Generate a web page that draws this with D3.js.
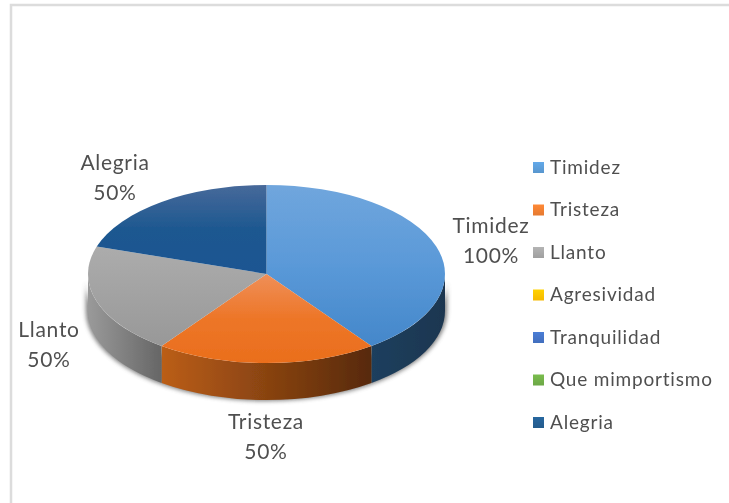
<!DOCTYPE html>
<html><head><meta charset="utf-8">
<script src="https://cdn.jsdelivr.net/npm/d3@7"></script>
<style>html,body{margin:0;padding:0;background:#fff}svg{display:block}text{font-family:Lato,"Open Sans",sans-serif;fill:#505050}</style>
</head><body><svg id="c" width="729" height="503"></svg>
<script>
const categories = ["Timidez","Tristeza","Llanto","Agresividad","Tranquilidad","Que mimportismo","Alegria"];
const values = [100,50,50,0,0,0,50];
const percentLabels = ["100%","50%","50%","","","","50%"];
const swatchColors = ["#5B9BD5","#ED7D31","#A5A5A5","#FFC000","#4472C4","#70AD47","#255E91"];
const topFrom = ["#70a6dd","#ef8f58","#acacac","#ffc000","#4472c4","#70ad47","#47699a"];
const topMid = ["#5a99d8","#ed7628","#a2a2a2","#ffc000","#4472c4","#70ad47","#1d5890"];
const topTo = ["#4487ca","#ea6e1c","#989898","#ffc000","#4472c4","#70ad47","#1a5592"];
const sideFrom = ["#1f3f5e","#bb5e18","#9a9a9a","#ffc000","#4472c4","#70ad47","#1a4a7a"];
const sideTo = ["#1b3650","#57290a","#666666","#ffc000","#4472c4","#70ad47","#1a4a7a"];

const W=729,H=503,cx=266.5,cy=274,rx=178.5,ry=89,depth=37;
const svg=d3.select("#c");
const defs=svg.append("defs");
const blur=defs.append("filter").attr("id","sh").attr("x","-10%").attr("y","-10%").attr("width","120%").attr("height","120%");
blur.append("feGaussianBlur").attr("stdDeviation",2.2);
const soft=defs.append("filter").attr("id","soft");
soft.append("feGaussianBlur").attr("stdDeviation",0.35);

// frame
svg.append("path").attr("d",`M${W},5H11V${H}`).attr("fill","none").attr("stroke","#dcdcdc").attr("stroke-width",2.5);

const pie=d3.pie().sort(null).value(d=>d)(values);
const X=d3.scaleLinear().domain([-1,1]).range([cx-rx,cx+rx]);
const Y=d3.scaleLinear().domain([-1,1]).range([cy-ry,cy+ry]);
const px=a=>X(Math.sin(a)), py=a=>Y(-Math.cos(a));

function topPath(s){
  const large=(s.endAngle-s.startAngle)>Math.PI?1:0;
  return `M${cx},${cy}L${px(s.startAngle)},${py(s.startAngle)}A${rx},${ry} 0 ${large} 1 ${px(s.endAngle)},${py(s.endAngle)}Z`;
}
function sidePath(a0,a1){
  return `M${px(a0)},${py(a0)}A${rx},${ry} 0 0 1 ${px(a1)},${py(a1)}L${px(a1)},${py(a1)+depth}A${rx},${ry} 0 0 0 ${px(a0)},${py(a0)+depth}Z`;
}
const hp=Math.PI/2, tp=3*Math.PI/2;

categories.forEach((c,i)=>{
  const g=defs.append("linearGradient").attr("id","t"+i).attr("x1",0).attr("y1",0).attr("x2",0).attr("y2",1);
  g.append("stop").attr("offset",0).attr("stop-color",topFrom[i]);
  g.append("stop").attr("offset",.5).attr("stop-color",topMid[i]);
  g.append("stop").attr("offset",1).attr("stop-color",topTo[i]);
  const h=defs.append("linearGradient").attr("id","s"+i).attr("x1",0).attr("y1",0).attr("x2",1).attr("y2",0);
  h.append("stop").attr("offset",0).attr("stop-color",sideFrom[i]);
  h.append("stop").attr("offset",1).attr("stop-color",sideTo[i]);
  const l=defs.append("linearGradient").attr("id","l"+i).attr("x1",0).attr("y1",0).attr("x2",0).attr("y2",1);
  l.append("stop").attr("offset",0).attr("stop-color",d3.color(swatchColors[i]).brighter(0.25));
  l.append("stop").attr("offset",1).attr("stop-color",d3.color(swatchColors[i]).darker(0.1));
});

// drop shadow around the side wall
svg.append("path")
  .attr("d",`M${X(-1)},${cy+8}A${rx},${ry} 0 0 0 ${X(1)},${cy+8}L${X(1)},${cy+depth}A${rx},${ry} 0 0 1 ${X(-1)},${cy+depth}Z`)
  .attr("transform",`translate(${cx},${cy+depth}) scale(1.012,1.012) translate(${-cx},${-cy-depth})`)
  .attr("fill","#555").attr("filter","url(#sh)").attr("opacity",.75);

const chart=svg.append("g").attr("filter","url(#soft)");
pie.forEach((s,i)=>{
  if(s.value===0) return;
  const a0=Math.max(s.startAngle,hp), a1=Math.min(s.endAngle,tp);
  if(a1<=a0) return;
  chart.append("path").attr("d",sidePath(a0,a1)).attr("fill",`url(#s${i})`);
});
pie.forEach((s,i)=>{
  if(s.value===0) return;
  chart.append("path").attr("d",topPath(s)).attr("fill",`url(#t${i})`);
});

// data labels
const labelPos={Timidez:[491,226],Tristeza:[266,422],Llanto:[49,330],Alegria:[115,163]};
const labelG=svg.append("g").attr("filter","url(#soft)");
categories.forEach((c,i)=>{
  if(!values[i]) return;
  const [x,y]=labelPos[c];
  const t=labelG.append("text").attr("text-anchor","middle").attr("font-size",21).attr("letter-spacing",0.7);
  t.append("tspan").attr("x",x).attr("y",y+7).text(c);
  t.append("tspan").attr("x",x).attr("y",y+37).text(percentLabels[i]);
});

// legend
const ly=d3.scalePoint().domain(categories).range([167,422]);
const leg=svg.append("g").attr("filter","url(#soft)");
categories.forEach((c,i)=>{
  leg.append("rect").attr("x",533).attr("y",ly(c)-5).attr("width",11).attr("height",11).attr("fill",`url(#l${i})`);
  leg.append("text").attr("x",550).attr("y",ly(c)+6.5).attr("font-size",19).attr("letter-spacing",0.8).text(c);
});
</script></body></html>
